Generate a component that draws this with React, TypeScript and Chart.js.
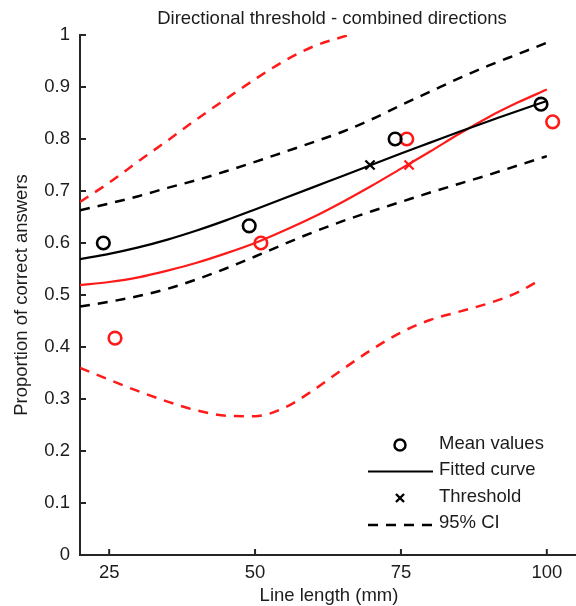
import React, { useEffect, useRef } from "react";
import { Chart, registerables } from "chart.js";

Chart.register(...registerables);

// ---------- text ----------
const chartTitle = "Directional threshold - combined directions";
const xAxisTitle = "Line length (mm)";
const yAxisTitle = "Proportion of correct answers";
const legendLabels = ["Mean values", "Fitted curve", "Threshold", "95% CI"];

// ---------- ticks ----------
const xTickValues = [25, 50, 75, 100];
const yTickValues = [0, 0.1, 0.2, 0.3, 0.4, 0.5, 0.6, 0.7, 0.8, 0.9, 1];
const yTickLabels = ["0", "0.1", "0.2", "0.3", "0.4", "0.5", "0.6", "0.7", "0.8", "0.9", "1"];

// ---------- mean values ----------
const blackMeanX = [24, 49, 74, 99];
const blackMeanY = [0.6, 0.633, 0.8, 0.867];
const redMeanX = [26, 51, 76, 101];
const redMeanY = [0.417, 0.6, 0.8, 0.833];

// ---------- thresholds ----------
const blackThresholdX = [69.7];
const blackThresholdY = [0.75];
const redThresholdX = [76.4];
const redThresholdY = [0.75];

// ---------- fitted curves ----------
const curveX = [20, 25, 30, 35, 40, 45, 50, 55, 60, 65, 70, 75, 80, 85, 90, 95, 100];
const blackFitY = [0.569, 0.579, 0.5915, 0.6065, 0.624, 0.6435, 0.6645, 0.686, 0.7075, 0.729, 0.7505, 0.772, 0.793, 0.814, 0.834, 0.854, 0.873];
const redFitY = [0.519, 0.525, 0.534, 0.547, 0.562, 0.58, 0.6, 0.624, 0.65, 0.679, 0.71, 0.743, 0.776, 0.81, 0.842, 0.87, 0.895];

// ---------- 95% CI ----------
const blackCIUpperY = [0.663, 0.676, 0.69, 0.706, 0.721, 0.738, 0.756, 0.775, 0.794, 0.814, 0.838, 0.865, 0.891, 0.917, 0.941, 0.963, 0.985];
const blackCILowerY = [0.478, 0.487, 0.498, 0.512, 0.53, 0.551, 0.574, 0.598, 0.621, 0.642, 0.661, 0.679, 0.697, 0.714, 0.731, 0.749, 0.767];
const redCIUpperX = [20, 25, 30, 35, 40, 45, 50, 55, 60, 66];
const redCIUpperY = [0.679, 0.716, 0.757, 0.797, 0.838, 0.877, 0.915, 0.95, 0.978, 1.0];
const redCILowerX = [20, 25, 30, 35, 40, 45, 50, 55, 60, 65, 70, 75, 80, 85, 90, 95, 99];
const redCILowerY = [0.36, 0.337, 0.315, 0.295, 0.278, 0.268, 0.267, 0.283, 0.317, 0.357, 0.395, 0.428, 0.452, 0.468, 0.484, 0.505, 0.53];

const BLACK = "#000000";
const RED = "#ff1a1a";
const TEXT = "#1c1c1c";
const AXIS = "#262626";
const FONT_FAMILY = "'Liberation Sans', Arial, Helvetica, sans-serif";
const FONT_SIZE = 18.5;
const DASH = [10, 8];

const zip = (xs: number[], ys: number[]) => xs.map((x, i) => ({ x, y: ys[i] }));

const decorPlugin = {
  id: "decor",
  beforeDatasetsDraw(chart: any) {
    const { ctx, chartArea: a, scales } = chart;
    const xs = scales.x;
    const ys = scales.y;
    ctx.save();
    ctx.strokeStyle = AXIS;
    ctx.lineWidth = 2;
    ctx.beginPath();
    ctx.moveTo(a.left, a.top - 1);
    ctx.lineTo(a.left, a.bottom);
    ctx.lineTo(a.right, a.bottom);
    yTickValues.forEach((v) => {
      const y = ys.getPixelForValue(v);
      ctx.moveTo(a.left, y);
      ctx.lineTo(a.left + 6, y);
    });
    xTickValues.forEach((v) => {
      const x = xs.getPixelForValue(v);
      ctx.moveTo(x, a.bottom);
      ctx.lineTo(x, a.bottom - 6);
    });
    ctx.stroke();
    ctx.restore();
  },
  afterDraw(chart: any) {
    const { ctx, chartArea: a } = chart;
    ctx.save();
    ctx.fillStyle = TEXT;
    ctx.font = `${FONT_SIZE}px ${FONT_FAMILY}`;
    ctx.textBaseline = "middle";
    // title
    ctx.textAlign = "center";
    ctx.fillText(chartTitle, (a.left + a.right) / 2 + 4, 19);
    // x title
    ctx.fillText(xAxisTitle, (a.left + a.right) / 2 + 1, 596);
    // y title
    ctx.save();
    ctx.translate(22, (a.top + a.bottom) / 2);
    ctx.rotate(-Math.PI / 2);
    ctx.fillText(yAxisTitle, 0, 0);
    ctx.restore();

    // legend
    const symX = a.right - 176;
    const lineL = a.right - 208;
    const lineR = a.right - 143;
    const textX = a.right - 137;
    const rows = [a.bottom - 111, a.bottom - 85, a.bottom - 58, a.bottom - 32];
    ctx.textAlign = "left";
    legendLabels.forEach((t, i) => ctx.fillText(t, textX, rows[i]));

    ctx.strokeStyle = BLACK;
    // circle
    ctx.lineWidth = 2.5;
    ctx.beginPath();
    ctx.arc(symX, rows[0] + 1, 5.5, 0, Math.PI * 2);
    ctx.stroke();
    // solid line
    ctx.lineWidth = 2.2;
    ctx.beginPath();
    ctx.moveTo(lineL, rows[1] + 1.5);
    ctx.lineTo(lineR, rows[1] + 1.5);
    ctx.stroke();
    // cross
    ctx.lineWidth = 2.4;
    ctx.beginPath();
    const c = 4;
    ctx.moveTo(symX - c, rows[2] + 1 - c);
    ctx.lineTo(symX + c, rows[2] + 1 + c);
    ctx.moveTo(symX + c, rows[2] + 1 - c);
    ctx.lineTo(symX - c, rows[2] + 1 + c);
    ctx.stroke();
    // dashed
    ctx.lineWidth = 2.5;
    ctx.setLineDash(DASH);
    ctx.beginPath();
    ctx.moveTo(lineL, rows[3] + 2);
    ctx.lineTo(lineR, rows[3] + 2);
    ctx.stroke();
    ctx.restore();
  },
};

export default function App() {
  const canvasRef = useRef<HTMLCanvasElement | null>(null);

  useEffect(() => {
    document.body.style.margin = "0";
    const canvas = canvasRef.current;
    if (!canvas) return;

    const markerBase = {
      showLine: false,
      backgroundColor: "rgba(0,0,0,0)",
      pointHoverRadius: 6,
    };
    const curveBase = {
      showLine: true,
      pointRadius: 0,
      pointHoverRadius: 0,
      fill: false,
      cubicInterpolationMode: "monotone" as const,
    };

    const chart = new Chart(canvas, {
      type: "scatter",
      data: {
        datasets: [
          { ...markerBase, label: "Black mean", data: zip(blackMeanX, blackMeanY), pointStyle: "circle", pointRadius: 6.3, borderColor: BLACK, pointBorderWidth: 2.6 } as any,
          { ...markerBase, label: "Red mean", data: zip(redMeanX, redMeanY), pointStyle: "circle", pointRadius: 6.3, borderColor: RED, pointBorderWidth: 2.6 } as any,
          { ...markerBase, label: "Black threshold", data: zip(blackThresholdX, blackThresholdY), pointStyle: "crossRot", pointRadius: 6.5, borderColor: BLACK, pointBorderWidth: 2.2 } as any,
          { ...markerBase, label: "Red threshold", data: zip(redThresholdX, redThresholdY), pointStyle: "crossRot", pointRadius: 6.5, borderColor: RED, pointBorderWidth: 2.2 } as any,
          { ...curveBase, label: "Black fit", data: zip(curveX, blackFitY), borderColor: BLACK, borderWidth: 2.2 } as any,
          { ...curveBase, label: "Red fit", data: zip(curveX, redFitY), borderColor: RED, borderWidth: 2.2 } as any,
          { ...curveBase, label: "Black CI upper", data: zip(curveX, blackCIUpperY), borderColor: BLACK, borderWidth: 2.5, borderDash: DASH } as any,
          { ...curveBase, label: "Black CI lower", data: zip(curveX, blackCILowerY), borderColor: BLACK, borderWidth: 2.5, borderDash: DASH } as any,
          { ...curveBase, label: "Red CI upper", data: zip(redCIUpperX, redCIUpperY), borderColor: RED, borderWidth: 2.5, borderDash: DASH } as any,
          { ...curveBase, label: "Red CI lower", data: zip(redCILowerX, redCILowerY), borderColor: RED, borderWidth: 2.5, borderDash: DASH } as any,
        ],
      },
      options: {
        responsive: false,
        animation: false,
        devicePixelRatio: 1,
        layout: { autoPadding: false, padding: { top: 35, right: 0, left: 0, bottom: 0 } },
        font: { family: FONT_FAMILY, size: FONT_SIZE } as any,
        plugins: {
          legend: { display: false },
          title: { display: false },
          tooltip: { enabled: false },
        },
        scales: {
          x: {
            type: "linear",
            min: 20,
            max: 105,
            grid: { display: false, drawTicks: false },
            border: { display: false },
            afterBuildTicks: (scale: any) => {
              scale.ticks = xTickValues.map((v) => ({ value: v }));
            },
            afterFit: (scale: any) => {
              scale.height = 51;
              scale.paddingLeft = 0;
              scale.paddingRight = 0;
            },
            ticks: {
              padding: 7,
              color: TEXT,
              font: { family: FONT_FAMILY, size: FONT_SIZE },
              maxRotation: 0,
              autoSkip: false,
              callback: (v: any) => String(v),
            },
          },
          y: {
            type: "linear",
            min: 0,
            max: 1,
            grid: { display: false, drawTicks: false },
            border: { display: false },
            afterBuildTicks: (scale: any) => {
              scale.ticks = yTickValues.map((v) => ({ value: v }));
            },
            afterFit: (scale: any) => {
              scale.width = 80;
              scale.paddingTop = 0;
              scale.paddingBottom = 0;
            },
            ticks: {
              padding: 10,
              color: TEXT,
              font: { family: FONT_FAMILY, size: FONT_SIZE },
              autoSkip: false,
              callback: (v: any) => {
                const i = yTickValues.findIndex((t) => Math.abs(t - Number(v)) < 1e-9);
                return i >= 0 ? yTickLabels[i] : "";
              },
            },
          },
        },
      },
      plugins: [decorPlugin],
    });

    return () => chart.destroy();
  }, []);

  return (
    <div style={{ width: 576, height: 606 }}>
      <canvas ref={canvasRef} width={576} height={606} style={{ display: "block" }} />
    </div>
  );
}
